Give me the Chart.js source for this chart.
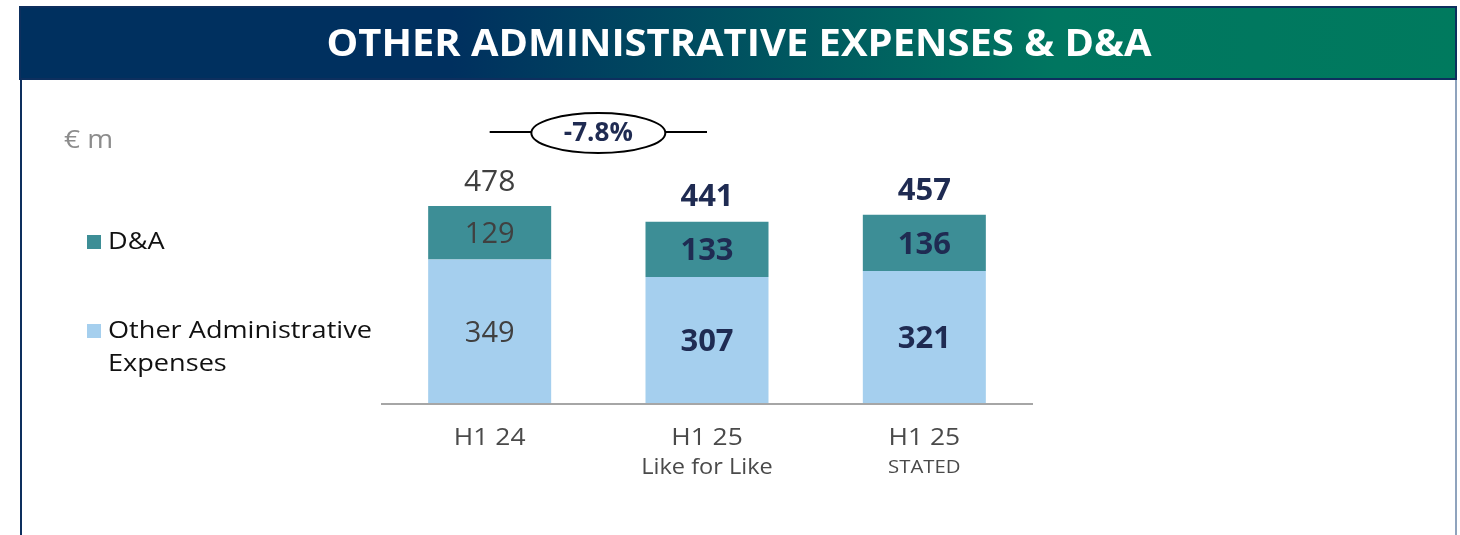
<!DOCTYPE html>
<html><head><meta charset="utf-8">
<script src="https://cdn.jsdelivr.net/npm/chart.js@4"></script>
<style>html,body{margin:0;padding:0;background:#fff;}#wrap{position:relative;width:1460px;height:535px;}</style>
</head><body><div id="wrap"><canvas id="c" width="1460" height="535"></canvas></div>
<script>
const title = 'OTHER ADMINISTRATIVE EXPENSES & D&A';
const unitLabel = '€ m';
const categories = ['H1 24', 'H1 25', 'H1 25'];
const subLabels = ['', 'Like for Like', 'STATED'];
const seriesNames = ['Other Administrative Expenses', 'D&A'];
const otherAdmin = [349, 307, 321];
const depAmort = [129, 133, 136];
const totals = [478, 441, 457];
const boldBars = [false, true, true];
const changeLabel = '-7.8%';

const FONT = '"Open Sans", "Liberation Sans", sans-serif';
const C_OTHER = '#a5cfee';
const C_DA = '#3d8e96';
const C_NAVY = '#1f2b52';
const C_GREY = '#404040';

function textX(ctx, s, x, y, sx, align) {
  ctx.save();
  ctx.translate(x, y); ctx.scale(sx, 1);
  ctx.textAlign = align || 'center';
  ctx.fillText(s, 0, 0);
  ctx.restore();
}

const deco = {
  id: 'deco',
  beforeDraw(chart) {
    const ctx = chart.ctx;
    ctx.save();
    ctx.strokeStyle = '#0d2f5e'; ctx.lineWidth = 2;
    ctx.beginPath(); ctx.moveTo(21, 70); ctx.lineTo(21, 535); ctx.stroke();
    ctx.strokeStyle = '#8fa3bd';
    ctx.beginPath(); ctx.moveTo(1456, 70); ctx.lineTo(1456, 535); ctx.stroke();
    const g = ctx.createLinearGradient(20, 0, 1457, 0);
    g.addColorStop(0, '#00305f'); g.addColorStop(0.3, '#00305f');
    g.addColorStop(0.72, '#007660'); g.addColorStop(1, '#007a5e');
    ctx.fillStyle = g; ctx.fillRect(20, 6, 1437, 74);
    ctx.strokeStyle = '#0d2f5e'; ctx.lineWidth = 2; ctx.strokeRect(20, 7, 1436, 72);
    ctx.fillStyle = '#fff'; ctx.textBaseline = 'middle';
    ctx.font = 'bold 38px ' + FONT;
    const w = ctx.measureText(title).width;
    textX(ctx, title, 739, 45, 825 / w);
    ctx.fillStyle = '#8c8c8c'; ctx.font = '25px ' + FONT;
    textX(ctx, unitLabel, 64, 141, 1.12, 'left');
    ctx.fillStyle = C_DA; ctx.fillRect(87, 235, 14, 14);
    ctx.fillStyle = C_OTHER; ctx.fillRect(87, 324, 14, 14);
    ctx.fillStyle = '#111'; ctx.font = '24px ' + FONT;
    textX(ctx, seriesNames[1], 108, 242, 1.13, 'left');
    textX(ctx, 'Other Administrative', 108, 331, 1.13, 'left');
    textX(ctx, 'Expenses', 108, 364, 1.13, 'left');
    ctx.restore();
  },
  afterDatasetsDraw(chart) {
    const ctx = chart.ctx;
    const x = chart.scales.x, y = chart.scales.y;
    const a = chart.chartArea;
    ctx.save();
    ctx.strokeStyle = '#a6a6a6'; ctx.lineWidth = 2;
    ctx.beginPath(); ctx.moveTo(a.left, y.getPixelForValue(0)); ctx.lineTo(a.right, y.getPixelForValue(0)); ctx.stroke();
    ctx.textAlign = 'center'; ctx.textBaseline = 'middle';
    const m0 = chart.getDatasetMeta(0), m1 = chart.getDatasetMeta(1);
    categories.forEach((cat, i) => {
      const cx = x.getPixelForValue(i);
      const b = boldBars[i];
      ctx.fillStyle = b ? C_NAVY : C_GREY;
      const wt = b ? 'bold ' : '';
      ctx.font = wt + (b ? '31px ' : '29px ') + FONT;
      const e0 = m0.data[i], e1 = m1.data[i];
      ctx.fillText(String(otherAdmin[i]), cx, (e0.y + e0.base) / 2 + 2);
      ctx.fillText(String(depAmort[i]), cx, (e1.y + e1.base) / 2 + 2);
      ctx.font = wt + (b ? '31px ' : '30px ') + FONT;
      ctx.fillText(String(totals[i]), cx, y.getPixelForValue(totals[i]) - 24);
      ctx.fillStyle = '#4a4a4a'; ctx.font = '24px ' + FONT;
      textX(ctx, cat, cx, 438, 1.1);
      if (subLabels[i]) {
        ctx.font = (subLabels[i] === 'STATED' ? '19px ' : '22px ') + FONT;
        textX(ctx, subLabels[i], cx, 468, 1.07);
      }
    });
    const x1 = x.getPixelForValue(0), x2 = x.getPixelForValue(1);
    const mx = (x1 + x2) / 2, my = 132;
    ctx.strokeStyle = '#000'; ctx.lineWidth = 2;
    ctx.beginPath(); ctx.moveTo(x1, my); ctx.lineTo(x2, my); ctx.stroke();
    ctx.beginPath(); ctx.ellipse(mx, my + 1, 67, 20, 0, 0, Math.PI * 2);
    ctx.fillStyle = '#fff'; ctx.fill(); ctx.stroke();
    ctx.fillStyle = C_NAVY; ctx.font = 'bold 26px ' + FONT;
    ctx.fillText(changeLabel, mx, my + 2);
    ctx.restore();
  }
};

new Chart(document.getElementById('c'), {
  type: 'bar',
  data: {
    labels: categories,
    datasets: [
      { label: seriesNames[0], data: otherAdmin, backgroundColor: C_OTHER, barPercentage: 0.566, categoryPercentage: 1 },
      { label: seriesNames[1], data: depAmort, backgroundColor: C_DA, barPercentage: 0.566, categoryPercentage: 1 }
    ]
  },
  options: {
    responsive: false, animation: false,
    layout: { padding: { left: 381, right: 427, top: 139, bottom: 131 } },
    plugins: { legend: { display: false }, tooltip: { enabled: false }, title: { display: false } },
    scales: {
      x: { stacked: true, display: false },
      y: { stacked: true, display: false, min: 0, max: 640 }
    }
  },
  plugins: [deco]
});
</script></body></html>
